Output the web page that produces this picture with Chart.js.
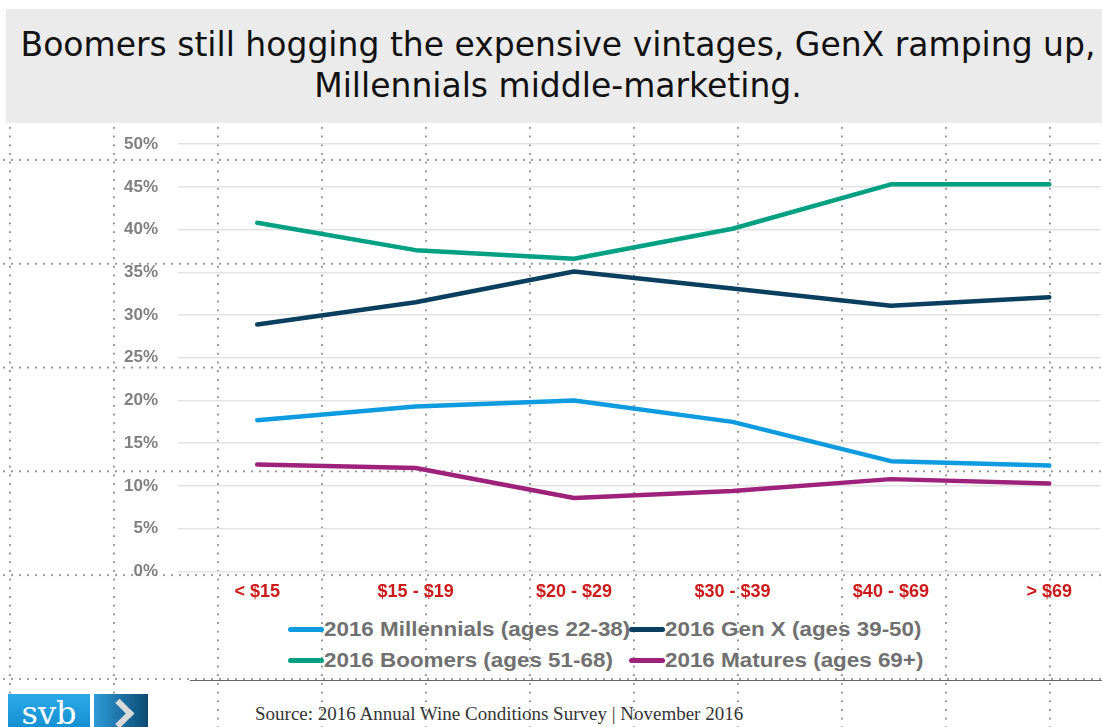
<!DOCTYPE html>
<html>
<head>
<meta charset="utf-8">
<title>Wine price tiers by generation</title>
<script src="https://cdn.jsdelivr.net/npm/chart.js@4.4.1/dist/chart.umd.min.js"></script>
<style>
    html, body { margin: 0; padding: 0; background: #fff; }
    body { width: 1102px; height: 727px; position: relative; overflow: hidden; }

    /* slide guide dots */
    #guides {
        position: absolute; left: 0; top: 124px; width: 1102px; height: 603px;
        background-image:
            radial-gradient(circle at 10px 4px, #999 0.9px, transparent 1.4px),
            radial-gradient(circle at 4px 36px, #999 0.9px, transparent 1.4px);
        background-size: 104px 8.7px, 8px 103.8px;
    }

    #title {
        position: absolute; left: 6px; top: 9px; width: 1096px; height: 114px;
        background: #ebebeb; box-sizing: border-box; padding: 15px 0 0 8px;
        font-family: 'DejaVu Sans', Verdana, sans-serif; font-size: 33px;
        line-height: 41px; color: #111; text-align: center;
    }

    #chartBox { position: absolute; left: 0; top: 114px; width: 1102px; height: 491px; }

    #legend {
        position: absolute; left: 288px; top: 614px;
        display: grid; grid-template-columns: 341px 300px; grid-auto-rows: 31px;
    }
    .item { display: flex; align-items: center; white-space: nowrap; }
    .swatch { width: 36px; height: 5px; border-radius: 3px; flex: none; }
    .label {
        font-family: 'Liberation Sans', Arial, sans-serif; font-weight: bold;
        font-size: 20px; color: #707070; display: inline-block;
        transform: scaleX(1.12); transform-origin: left center;
    }

    #rule { position: absolute; left: 190px; top: 680px; width: 912px; height: 0; border-top: 1.5px solid #666; }

    #logo1 {
        position: absolute; left: 8px; top: 694px; width: 82px; height: 33px;
        background: linear-gradient(#2ba9e6, #1590d2); overflow: hidden;
        color: #fff; font-family: 'DejaVu Serif', Georgia, serif; font-size: 32px;
        line-height: 33px; text-align: center; padding-top: 3px; box-sizing: border-box;
    }
    #logo2 {
        position: absolute; left: 94px; top: 694px; width: 54px; height: 33px;
        background: linear-gradient(90deg, #2e9ad9, #0b4a73); overflow: hidden;
    }
    #logo2 .chev {
        position: absolute; left: 15px; top: 9px; width: 15px; height: 15px;
        border-top: 6px solid #d9d9d9; border-right: 6px solid #d9d9d9;
        transform: rotate(45deg);
    }

    #source {
        position: absolute; left: 255px; top: 703px;
        font-family: 'Liberation Serif', 'Times New Roman', serif; font-size: 19px; color: #333;
    }
</style>
</head>
<body>
<div id="guides"></div>
<div id="title">Boomers still hogging the expensive vintages, GenX ramping up,<br>Millennials middle-marketing.</div>
<div id="chartBox"><canvas id="chart"></canvas></div>
<div id="legend"></div>
<div id="rule"></div>
<div id="logo1">svb</div>
<div id="logo2"><div class="chev"></div></div>
<div id="source">Source: 2016 Annual Wine Conditions Survey | November 2016</div>

<script>
// Price tiers (x axis)
const categories = ['< $15', '$15 - $19', '$20 - $29', '$30 - $39', '$40 - $69', '> $69'];

// Share of purchases, percent
const millennials = [17.7, 19.3, 20.0, 17.5, 12.9, 12.4];
const genX = [28.9, 31.5, 35.1, 33.1, 31.1, 32.1];
const boomers = [40.8, 37.6, 36.6, 40.1, 45.3, 45.3];
const matures = [12.5, 12.1, 8.6, 9.4, 10.8, 10.3];

const seriesNames = [
    '2016 Millennials (ages 22-38)',
    '2016 Gen X (ages 39-50)',
    '2016 Boomers (ages 51-68)',
    '2016 Matures (ages 69+)'
];
const seriesColors = ['#0e9be0', '#0b3f60', '#00a083', '#9e227b'];

// y axis 0..50 by 5
const yMin = 0;
const yMax = 50;
const yStep = 5;

const allSeries = [millennials, genX, boomers, matures];

const datasets = allSeries.map((values, i) => ({
    label: seriesNames[i],
    data: values.map((v, j) => ({ x: j, y: v })),
    borderColor: seriesColors[i],
    backgroundColor: seriesColors[i],
    borderWidth: 4.5,
    borderCapStyle: 'round',
    borderJoinStyle: 'round',
    pointRadius: 0,
    tension: 0,
    fill: false
}));

new Chart(document.getElementById('chart'), {
    type: 'line',
    data: { datasets },
    options: {
        responsive: true,
        maintainAspectRatio: false,
        animation: false,
        layout: { padding: { top: 9, right: 2, left: 0, bottom: 0 } },
        plugins: {
            legend: { display: false },
            tooltip: { enabled: false }
        },
        scales: {
            x: {
                type: 'linear',
                min: -0.5,
                max: 5.32,
                grid: { display: false },
                border: { display: false },
                afterBuildTicks: scale => {
                    scale.ticks = categories.map((c, i) => ({ value: i }));
                },
                ticks: {
                    autoSkip: false,
                    maxRotation: 0,
                    padding: 2,
                    color: '#cc1a1a',
                    font: { family: "'Liberation Sans', Arial, sans-serif", size: 18, weight: 'bold' },
                    callback: v => categories[v]
                }
            },
            y: {
                min: yMin,
                max: yMax,
                afterFit: scale => { scale.width = 178; },
                grid: { color: '#e3e3e3', lineWidth: 1.5, drawTicks: false },
                border: { display: false },
                ticks: {
                    stepSize: yStep,
                    padding: 20,
                    color: '#808080',
                    font: { family: "'Liberation Sans', Arial, sans-serif", size: 17, weight: 'bold' },
                    callback: v => v + '%'
                }
            }
        }
    }
});

// legend: two columns, two rows
const legend = document.getElementById('legend');
seriesNames.forEach((name, i) => {
    const item = document.createElement('div');
    item.className = 'item';
    item.innerHTML = '<span class="swatch" style="background:' + seriesColors[i] + '"></span>' +
        '<span class="label">' + name + '</span>';
    legend.appendChild(item);
});
</script>
</body>
</html>
